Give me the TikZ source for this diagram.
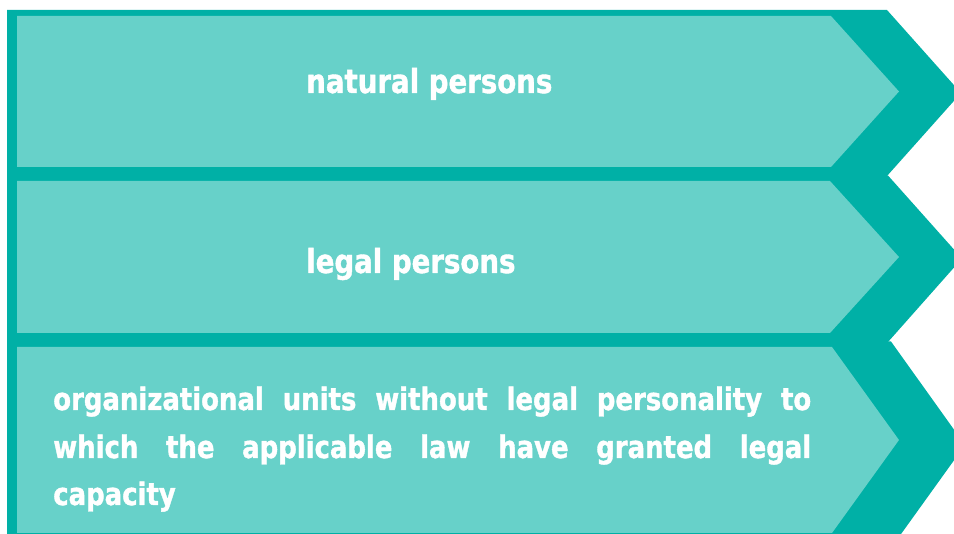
\documentclass[tikz,border=0pt]{standalone}
\usepackage{fontspec}
\setmainfont{DejaVu Sans Condensed}[FakeStretch=0.93,BoldFeatures={FakeBold=1.2}]
\definecolor{tealdark}{HTML}{00B0A6}
\definecolor{teallight}{HTML}{67D1C9}
\tikzset{
  darkshape/.style={fill=tealdark, draw=none},
  lightshape/.style={fill=teallight, draw=none},
  titletext/.style={text=white, font=\bfseries\fontsize{24.75}{30}\selectfont, inner sep=0pt, anchor=base west},
  bodytext/.style={text=white, font=\bfseries\fontsize{23.25}{28}\selectfont, inner sep=0pt, anchor=base west}
}
\begin{document}
\begin{tikzpicture}[x=0.75pt,y=-0.75pt]
\useasboundingbox (0,0) rectangle (954,534);
\clip (0,0) rectangle (954,534);
% row 1
\path[darkshape] (7,10) -- (887,10) -- (961,93) -- (887,176) -- (7,176) -- cycle;
\path[lightshape] (17,16) -- (831,16) -- (899,91.5) -- (831,167) -- (17,167) -- cycle;
% row 2
\path[darkshape] (7,175.5) -- (888,175.5) -- (962,258.5) -- (888,342) -- (7,342) -- cycle;
\path[lightshape] (17,181) -- (830,181) -- (899,257) -- (830,333) -- (17,333) -- cycle;
% row 3
\path[darkshape] (7,341.5) -- (891,341.5) -- (965,445) -- (891,548) -- (7,548) -- cycle;
\path[lightshape] (17,347) -- (832,347) -- (899,440) -- (832,533) -- (17,533) -- cycle;
% texts
\node[titletext] (t1) at (306,93) {natural persons};
\node[titletext] (t2) at (306,273) {legal persons};
\node[bodytext] (t3a) at (53,410) {\makebox[568.5pt][s]{organizational units without legal personality to}};
\node[bodytext] (t3b) at (53,458) {\makebox[568.5pt][s]{which the applicable law have granted legal}};
\node[bodytext] (t3c) at (53,505) {capacity};
\end{tikzpicture}
\end{document}
